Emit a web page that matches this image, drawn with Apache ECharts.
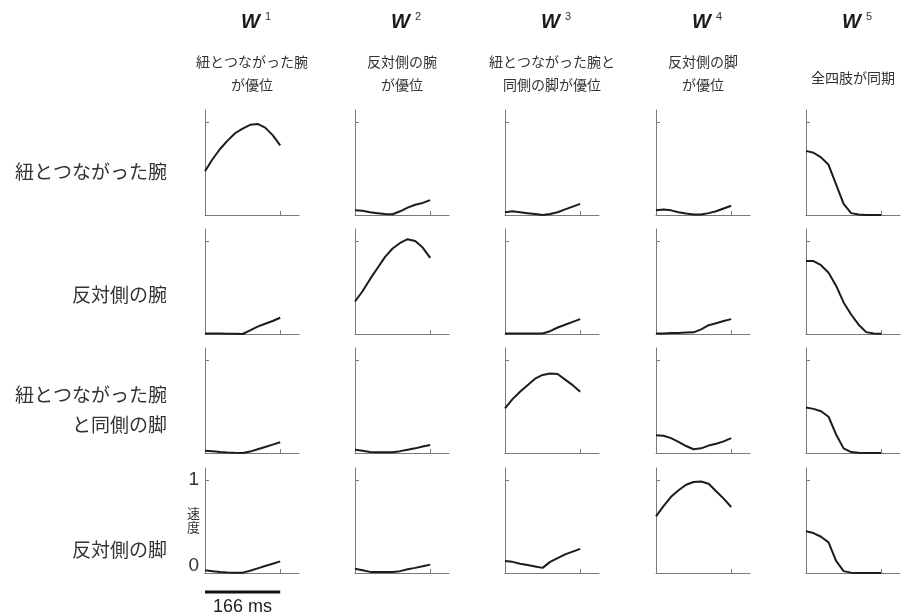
<!DOCTYPE html>
<html>
<head>
<meta charset="utf-8">
<script src="https://cdn.jsdelivr.net/npm/echarts@6/dist/echarts.min.js"></script>
<style>
  html, body { margin: 0; padding: 0; background: #fff; }
  #chart { width: 906px; height: 616px; }
</style>
</head>
<body>
<div id="chart"></div>
<script>
// time normalised to one stride (1 = 166 ms)
const timePoints = [0, 0.1, 0.2, 0.3, 0.4, 0.5, 0.6, 0.7, 0.8, 0.9, 1.0];

const colNumbers = ['1', '2', '3', '4', '5'];
const colTitles = ['紐とつながった腕\nが優位', '反対側の腕\nが優位', '紐とつながった腕と\n同側の脚が優位', '反対側の脚\nが優位', '全四肢が同期'];
const rowLabels = ['紐とつながった腕', '反対側の腕', '紐とつながった腕\nと同側の脚', '反対側の脚'];

// speed curves, one array per row, one entry per W
const tetheredArm = [
  [0.47, 0.60, 0.71, 0.80, 0.88, 0.93, 0.97, 0.98, 0.94, 0.86, 0.75],
  [0.05, 0.045, 0.03, 0.02, 0.01, 0.008, 0.04, 0.08, 0.11, 0.13, 0.16],
  [0.03, 0.04, 0.03, 0.02, 0.01, 0.0, 0.01, 0.03, 0.06, 0.09, 0.12],
  [0.05, 0.06, 0.05, 0.03, 0.015, 0.005, 0.005, 0.02, 0.04, 0.07, 0.10],
  [0.69, 0.67, 0.62, 0.54, 0.33, 0.12, 0.02, 0.005, 0.0, 0.0, 0.0]
];
const oppositeArm = [
  [0.005, 0.005, 0.005, 0.003, 0.002, 0.0, 0.04, 0.08, 0.11, 0.14, 0.175],
  [0.35, 0.46, 0.59, 0.71, 0.83, 0.92, 0.98, 1.02, 1.0, 0.93, 0.82],
  [0.005, 0.005, 0.005, 0.005, 0.005, 0.005, 0.03, 0.07, 0.10, 0.13, 0.16],
  [0.005, 0.005, 0.01, 0.012, 0.015, 0.018, 0.05, 0.095, 0.115, 0.14, 0.16],
  [0.785, 0.785, 0.74, 0.66, 0.52, 0.34, 0.21, 0.10, 0.02, 0.005, 0.003]
];
const tetheredSideLeg = [
  [0.025, 0.02, 0.01, 0.005, 0.002, 0.0, 0.015, 0.04, 0.065, 0.09, 0.115],
  [0.035, 0.025, 0.01, 0.008, 0.008, 0.008, 0.02, 0.035, 0.05, 0.07, 0.086],
  [0.48, 0.58, 0.66, 0.73, 0.80, 0.84, 0.855, 0.85, 0.79, 0.73, 0.66],
  [0.19, 0.185, 0.16, 0.12, 0.075, 0.04, 0.05, 0.08, 0.10, 0.125, 0.16],
  [0.49, 0.475, 0.45, 0.39, 0.20, 0.05, 0.01, 0.003, 0.0, 0.0, 0.0]
];
const oppositeLeg = [
  [0.03, 0.02, 0.01, 0.005, 0.004, 0.004, 0.025, 0.05, 0.075, 0.10, 0.125],
  [0.045, 0.03, 0.012, 0.01, 0.01, 0.01, 0.02, 0.04, 0.055, 0.072, 0.09],
  [0.13, 0.12, 0.10, 0.085, 0.07, 0.055, 0.12, 0.16, 0.20, 0.23, 0.26],
  [0.61, 0.72, 0.82, 0.89, 0.95, 0.98, 0.985, 0.96, 0.88, 0.80, 0.71],
  [0.45, 0.43, 0.39, 0.33, 0.13, 0.02, 0.004, 0.0, 0.0, 0.0, 0.0]
];
const rows = [tetheredArm, oppositeArm, tetheredSideLeg, oppositeLeg];

// layout
const colLeft = [205, 355, 505, 656, 806];
const rowBase = [215, 334, 453, 573];
const gridW = 94, gridH = 105;
const xMax = 1.25, yMax = 1.13;

const jpFont = '"Noto Sans CJK JP", sans-serif';
const axisColor = '#7a7a7a';

const chart = echarts.init(document.getElementById('chart'));

const grids = [], xAxes = [], yAxes = [], series = [];
rows.forEach((row, r) => {
  row.forEach((vals, c) => {
    const idx = r * 5 + c;
    const labelled = (r === 3 && c === 0);
    grids.push({ left: colLeft[c], top: rowBase[r] - gridH, width: gridW, height: gridH });
    xAxes.push({
      type: 'value', gridIndex: idx, min: 0, max: xMax,
      axisLine: { show: true, lineStyle: { color: axisColor, width: 1 } },
      axisTick: { show: true, inside: true, length: 4, customValues: [1], lineStyle: { color: axisColor } },
      axisLabel: { show: false },
      splitLine: { show: false }
    });
    yAxes.push({
      type: 'value', gridIndex: idx, min: 0, max: yMax,
      axisLine: { show: true, lineStyle: { color: axisColor, width: 1 } },
      axisTick: { show: true, inside: true, length: 4, customValues: [1], lineStyle: { color: axisColor } },
      axisLabel: {
        show: labelled, customValues: [0, 1], margin: 6,
        fontSize: 19, color: '#333', fontFamily: 'Liberation Sans',
        formatter: v => v === 0 ? '{z|0}' : '{o|1}',
        rich: {
          z: { fontSize: 19, color: '#333', padding: [0, 0, 14, 0] },
          o: { fontSize: 19, color: '#333' }
        }
      },
      name: labelled ? '速\n度' : '',
      nameLocation: 'middle', nameRotate: 0, nameGap: 5, nameMoveOverlap: false,
      nameTextStyle: { fontSize: 13, color: '#333', fontFamily: jpFont, lineHeight: 14 },
      splitLine: { show: false }
    });
    series.push({
      type: 'line', xAxisIndex: idx, yAxisIndex: idx,
      data: timePoints.map((t, i) => [t, vals[i]]),
      showSymbol: false, symbol: 'none',
      lineStyle: { color: '#1c1c1c', width: 2 },
      silent: true, animation: false
    });
  });
});

const graphics = [];
colNumbers.forEach((n, c) => {
  const cx = colLeft[c] + gridW / 2;
  graphics.push({
    type: 'text', left: cx - 11, top: 12,
    style: { text: 'W', fontSize: 20, fontWeight: 'bold', fontStyle: 'italic', fontFamily: 'Liberation Sans', fill: '#1a1a1a' }
  });
  graphics.push({
    type: 'text', left: cx + 13, top: 11,
    style: { text: n, fontSize: 11, fontFamily: 'Liberation Sans', fill: '#333' }
  });
  const single = colTitles[c].indexOf('\n') < 0;
  graphics.push({
    type: 'text', x: cx, y: single ? 78 : 73.5,
    style: {
      text: colTitles[c], fontSize: 14, lineHeight: 23, fontFamily: jpFont, fill: '#333',
      align: 'center', verticalAlign: 'middle'
    }
  });
});
const rowLabelY = [172, 295, 410, 550];
rowLabels.forEach((t, r) => {
  graphics.push({
    type: 'text', x: 167, y: rowLabelY[r],
    style: { text: t, fontSize: 19, lineHeight: 30, fontFamily: jpFont, fill: '#333', align: 'right', verticalAlign: 'middle' }
  });
});

chart.setOption({
  animation: false,
  backgroundColor: '#fff',
  grid: grids, xAxis: xAxes, yAxis: yAxes, series: series,
  graphic: graphics
});

// 166 ms scale bar under the bottom-left panel, spanning one stride on its x axis
const x0 = chart.convertToPixel({ xAxisIndex: 15 }, 0);
const x1 = chart.convertToPixel({ xAxisIndex: 15 }, 1);
const yb = chart.convertToPixel({ yAxisIndex: 15 }, 0) + 19;
graphics.push({
  type: 'line', shape: { x1: x0, y1: yb, x2: x1, y2: yb },
  style: { stroke: '#111', lineWidth: 3 }
});
graphics.push({
  type: 'text', x: (x0 + x1) / 2, y: yb + 15,
  style: { text: '166 ms', fontSize: 18, fontFamily: 'Liberation Sans', fill: '#222', align: 'center', verticalAlign: 'middle' }
});
chart.setOption({ graphic: graphics });
</script>
</body>
</html>
